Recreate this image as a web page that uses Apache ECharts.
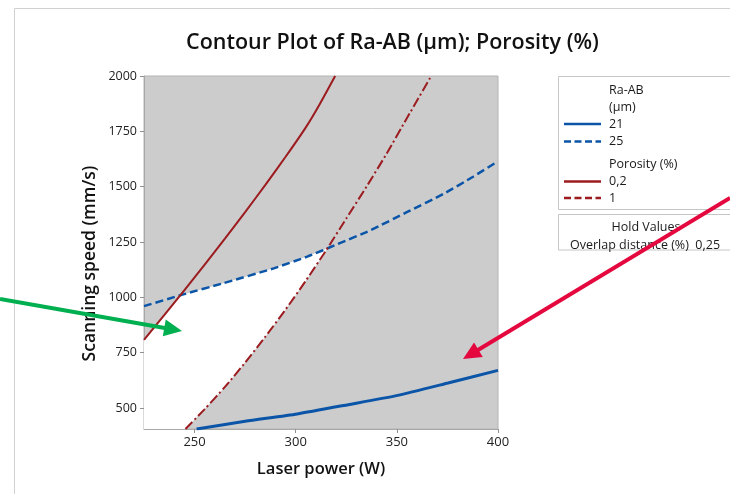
<!DOCTYPE html>
<html>
<head>
<meta charset="utf-8">
<script src="https://cdn.jsdelivr.net/npm/echarts@6/dist/echarts.min.js"></script>
<style>html,body{margin:0;padding:0;background:#fff}#c{width:730px;height:494px}</style>
</head>
<body>
<div id="c"></div>
<script>
// ---- data (Laser power W, Scanning speed mm/s) ----
const xTicks = [250, 300, 350, 400];
const yTicks = [500, 750, 1000, 1250, 1500, 1750, 2000];
const xRange = [225, 400];
const yRange = [405, 2000];
// Ra-AB (µm) = 21, solid blue
const ra21 = [[251, 405], [275, 440], [300.7, 473], [326, 515], [350.4, 557], [375.3, 613], [400, 670]];
// Ra-AB (µm) = 25, dashed blue
const ra25 = [[225, 960], [243.6, 1011], [264.3, 1064], [289.1, 1131], [305.7, 1184], [320.6, 1240], [337.2, 1304], [355.4, 1387], [373.6, 1470], [387.7, 1545], [400, 1615]];
// Porosity (%) = 0,2, solid red
const por02 = [[225, 808], [235, 920], [245, 1033], [255, 1148], [265, 1265], [275, 1385], [285, 1508], [295, 1635], [305, 1768], [312, 1875], [319.5, 2000]];
// Porosity (%) = 1, dashed red
const por1 = [[245.5, 405], [255, 495], [265, 595], [275, 705], [285, 822], [295, 945], [305, 1075], [315, 1212], [325, 1356], [335, 1500], [345, 1650], [355, 1810], [367, 2000]];
const holdName = 'Overlap distance (%)';
const holdValue = '0,25';

const BLUE = '#0b55a8', RED = '#9c1b1f';
const FONT = 'Open Sans';

// ---- feasible (white) region built from the contour curves ----
function segInt(p, q, r, s) {
  const d = (q[0]-p[0])*(s[1]-r[1]) - (q[1]-p[1])*(s[0]-r[0]);
  if (Math.abs(d) < 1e-12) return null;
  const t = ((r[0]-p[0])*(s[1]-r[1]) - (r[1]-p[1])*(s[0]-r[0])) / d;
  const u = ((r[0]-p[0])*(q[1]-p[1]) - (r[1]-p[1])*(q[0]-p[0])) / d;
  if (t < 0 || t > 1 || u < 0 || u > 1) return null;
  return {pt: [p[0]+t*(q[0]-p[0]), p[1]+t*(q[1]-p[1])]};
}
function crossing(A, B) {
  for (let i = 0; i < A.length-1; i++)
    for (let j = 0; j < B.length-1; j++) {
      const r = segInt(A[i], A[i+1], B[j], B[j+1]);
      if (r) return {i, j, pt: r.pt};
    }
  return null;
}
function region() {
  const c1 = crossing(por02, ra25);
  const c2 = crossing(ra25, por1);
  const pts = [[xRange[0], yRange[0]]];
  for (let k = 0; k <= c1.i; k++) pts.push(por02[k]);
  pts.push(c1.pt);
  for (let k = c1.j+1; k <= c2.i; k++) pts.push(ra25[k]);
  pts.push(c2.pt);
  for (let k = c2.j; k >= 0; k--) pts.push(por1[k]);
  return pts;
}
const whiteRegion = region();

const chart = echarts.init(document.getElementById('c'), null, {renderer: 'canvas'});

const axisCommon = {
  type: 'value',
  axisLine: {show: true, lineStyle: {color: '#a8a8a8', width: 1}},
  splitLine: {show: false},
  nameLocation: 'middle'
};

function legendGraphics() {
  const L = 558.5, T = 76.5;
  const txt = (x, y, s, size, align) => ({type: 'text', style: {x, y, text: s, fontFamily: FONT, fontSize: size || 12.5, fill: '#1a1a1a', align: align || 'left', verticalAlign: 'middle'}});
  const ln = (y, color, dash) => ({type: 'line', shape: {x1: 564, y1: y, x2: 601, y2: y}, style: {stroke: color, lineWidth: 2.5, lineDash: dash ? [7, 3.5] : null}});
  return [
    {type: 'rect', shape: {x: L, y: T, width: 190, height: 133}, style: {fill: '#fff', stroke: '#c6c6c6', lineWidth: 1}},
    txt(609, 90, 'Ra-AB'),
    txt(609, 107, '(µm)'),
    ln(124, BLUE, false), txt(609, 124, '21'),
    ln(141.5, BLUE, true), txt(609, 141.5, '25'),
    txt(609, 164, 'Porosity (%)'),
    ln(181.5, RED, false), txt(609, 181.5, '0,2'),
    ln(198, RED, true), txt(609, 198, '1'),
    {type: 'rect', shape: {x: L, y: 214.5, width: 190, height: 35.5}, style: {fill: '#fff', stroke: '#c6c6c6', lineWidth: 1}},
    txt(646, 227, 'Hold Values', 12.5, 'center'),
    txt(570, 245, holdName + '  ' + holdValue, 12.5)
  ];
}
function arrow(x1, y1, x2, y2, color) {
  const dx = x2-x1, dy = y2-y1, len = Math.hypot(dx, dy), ux = dx/len, uy = dy/len;
  const hl = 18, hw = 8.5;
  const bx = x2-ux*hl, by = y2-uy*hl;
  return [
    {type: 'line', z: 100, shape: {x1, y1, x2: bx+ux*2, y2: by+uy*2}, style: {stroke: color, lineWidth: 4}},
    {type: 'polygon', z: 100, shape: {points: [[x2, y2], [bx-uy*hw, by+ux*hw], [bx+uy*hw, by-ux*hw]]}, style: {fill: color}}
  ];
}

chart.setOption({
  animation: false,
  backgroundColor: '#fff',
  title: {text: 'Contour Plot of Ra-AB (µm); Porosity (%)', left: 181, top: 27,
    textStyle: {fontFamily: FONT, fontSize: 21.5, fontWeight: 600, color: '#111'}},
  grid: {left: 144, top: 76, width: 354, height: 353, show: true, backgroundColor: '#cccccc', borderColor: '#b4b4b4', borderWidth: 1},
  xAxis: Object.assign({}, axisCommon, {
    min: xRange[0], max: xRange[1], name: 'Laser power (W)', nameGap: 32,
    nameTextStyle: {fontFamily: FONT, fontSize: 16.5, fontWeight: 600, color: '#111'},
    axisTick: {show: true, customValues: xTicks, length: 4, lineStyle: {color: '#909090'}},
    axisLabel: {customValues: xTicks, fontFamily: FONT, fontSize: 13, color: '#222', margin: 7, formatter: v => String(v)}
  }),
  yAxis: Object.assign({}, axisCommon, {
    min: yRange[0], max: yRange[1], name: 'Scanning speed (mm/s)', nameGap: 45,
    nameTextStyle: {fontFamily: FONT, fontSize: 17.5, fontWeight: 600, color: '#111', padding: [0, 22, 0, 0]},
    axisTick: {show: true, customValues: yTicks, length: 4, lineStyle: {color: '#909090'}},
    axisLabel: {customValues: yTicks, fontFamily: FONT, fontSize: 12.5, color: '#222', margin: 7, formatter: v => String(v)}
  }),
  series: [
    {type: 'custom', name: 'feasible', silent: true, clip: true, z: 1,
      data: [whiteRegion[0]],
      renderItem: (params, api) => ({
        type: 'polygon',
        shape: {points: whiteRegion.map(p => api.coord(p))},
        style: {fill: '#ffffff'}
      })},
    {type: 'line', name: '21', data: ra21, smooth: 0.2, symbol: 'none', clip: true, z: 3,
      lineStyle: {color: BLUE, width: 3}},
    {type: 'line', name: '25', data: ra25, smooth: 0.2, symbol: 'none', clip: true, z: 3,
      lineStyle: {color: BLUE, width: 2.5, type: [8, 4]}},
    {type: 'line', name: '0,2', data: por02, smooth: 0.2, symbol: 'none', clip: true, z: 3,
      lineStyle: {color: RED, width: 2}},
    {type: 'line', name: '1', data: por1, smooth: 0.2, symbol: 'none', clip: true, z: 3,
      lineStyle: {color: RED, width: 2, type: [10, 3, 2, 3]}}
  ],
  graphic: [
    {type: 'polyline', shape: {points: [[14.5, 494], [14.5, 8.5], [730, 8.5]]}, style: {stroke: '#d0d0d0', lineWidth: 1, fill: null}},
    {type: 'group', children: legendGraphics()},
    {type: 'group', z: 100, children: arrow(0, 299, 182, 331, '#00b050').concat(arrow(730, 198, 463, 359, '#e4083f'))}
  ]
});
</script>
</body>
</html>
